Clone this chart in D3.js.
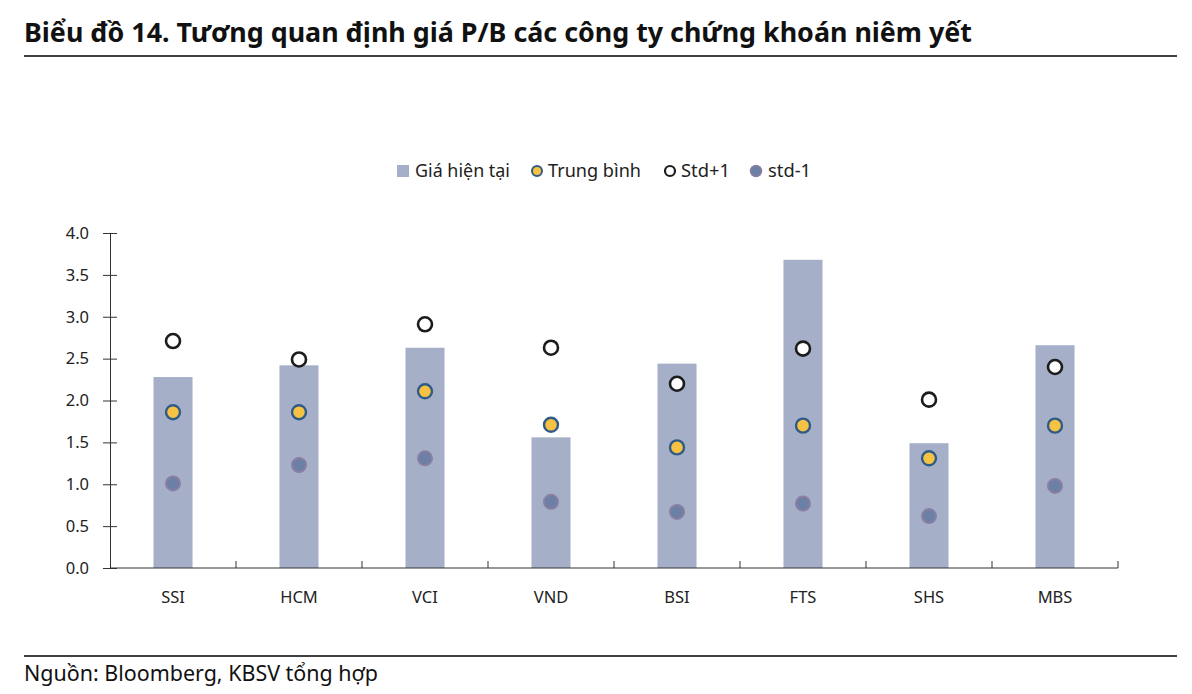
<!DOCTYPE html>
<html>
<head>
<meta charset="utf-8">
<script src="https://cdn.jsdelivr.net/npm/d3@7"></script>
<style>
  body { margin: 0; background: #fff; }
  text { font-family: "Source Sans Pro", "Noto Sans", sans-serif; }
</style>
</head>
<body>
<div id="chart"></div>
<script>
var categories = ["SSI", "HCM", "VCI", "VND", "BSI", "FTS", "SHS", "MBS"];
var currentPB = [2.28, 2.42, 2.63, 1.56, 2.44, 3.68, 1.49, 2.66];
var meanPB = [1.86, 1.86, 2.11, 1.71, 1.44, 1.70, 1.31, 1.70];
var stdPlus = [2.71, 2.49, 2.91, 2.63, 2.20, 2.62, 2.01, 2.40];
var stdMinus = [1.01, 1.23, 1.31, 0.79, 0.67, 0.77, 0.62, 0.98];
var yTicks = [0, 0.5, 1, 1.5, 2, 2.5, 3, 3.5, 4];

var width = 1192, height = 694;
var margin = { top: 233, left: 110, right: 74, bottom: 126 };

var svg = d3.select("#chart").append("svg")
  .attr("width", width)
  .attr("height", height);

// title + rules
svg.append("text")
  .attr("x", 24).attr("y", 42)
  .attr("font-size", 27).attr("font-weight", "bold")
  .attr("fill", "#111")
  .attr("textLength", 948).attr("lengthAdjust", "spacingAndGlyphs")
  .text("Biểu đồ 14. Tương quan định giá P/B các công ty chứng khoán niêm yết");
svg.append("line").attr("x1", 24).attr("x2", 1177).attr("y1", 56).attr("y2", 56)
  .attr("stroke", "#000").attr("stroke-width", 1.3);
svg.append("line").attr("x1", 24).attr("x2", 1177).attr("y1", 656).attr("y2", 656)
  .attr("stroke", "#000").attr("stroke-width", 1.3);
svg.append("text")
  .attr("x", 24).attr("y", 681)
  .attr("font-size", 22).attr("fill", "#111")
  .attr("textLength", 354).attr("lengthAdjust", "spacingAndGlyphs")
  .text("Nguồn: Bloomberg, KBSV tổng hợp");

var x = d3.scaleBand()
  .domain(categories)
  .range([margin.left, width - margin.right])
  .paddingInner(0.69).paddingOuter(0.345);

var xBand = d3.scaleBand()
  .domain(categories)
  .range([margin.left, width - margin.right]);

var y = d3.scaleLinear()
  .domain([0, 4])
  .range([height - margin.bottom, margin.top]);

var data = categories.map(function (c, i) {
  return { name: c, cur: currentPB[i], mean: meanPB[i], plus: stdPlus[i], minus: stdMinus[i] };
});

// bars
svg.append("g").selectAll("rect")
  .data(data)
  .enter()
  .append("rect")
  .attr("x", function (d) { return x(d.name); })
  .attr("width", x.bandwidth())
  .attr("y", function (d) { return y(d.cur); })
  .attr("height", function (d) { return y(0) - y(d.cur); })
  .attr("fill", "#a5b0c8");

// y axis
var yAxis = svg.append("g")
  .attr("transform", "translate(" + margin.left + ",0)")
  .call(d3.axisLeft(y).tickValues(yTicks).tickFormat(d3.format(".1f")).tickSizeInner(7).tickSizeOuter(0).tickPadding(14));
yAxis.selectAll(".tick line").attr("x2", 7).attr("x1", -7);
yAxis.select(".domain").attr("stroke", "#333");
yAxis.selectAll(".tick line").attr("stroke", "#333");
yAxis.selectAll("text").attr("font-size", 16.5).attr("fill", "#222")
  .style("font-family", "'Source Sans Pro', 'Noto Sans', sans-serif");

// x axis
var xAxis = svg.append("g")
  .attr("transform", "translate(0," + y(0) + ")");
xAxis.append("line")
  .attr("x1", margin.left).attr("x2", width - margin.right)
  .attr("stroke", "#333");
xAxis.selectAll(".sep")
  .data(categories.slice(1).concat(["__end"]))
  .enter()
  .append("line")
  .attr("x1", function (d) { return d === "__end" ? width - margin.right : xBand(d); })
  .attr("x2", function (d) { return d === "__end" ? width - margin.right : xBand(d); })
  .attr("y1", 0).attr("y2", -7)
  .attr("stroke", "#333");
xAxis.selectAll(".lbl")
  .data(categories)
  .enter()
  .append("text")
  .attr("x", function (d) { return xBand(d) + xBand.bandwidth() / 2; })
  .attr("y", 35)
  .attr("text-anchor", "middle")
  .attr("font-size", 16.5).attr("fill", "#222")
  .text(function (d) { return d; });

function cx(d) { return x(d.name) + x.bandwidth() / 2; }

// std-1
svg.append("g").selectAll("circle")
  .data(data).enter().append("circle")
  .attr("cx", cx).attr("cy", function (d) { return y(d.minus); })
  .attr("r", 7)
  .attr("fill", "#6b80a4").attr("stroke", "#8a7ea2").attr("stroke-width", 2);

// mean
svg.append("g").selectAll("circle")
  .data(data).enter().append("circle")
  .attr("cx", cx).attr("cy", function (d) { return y(d.mean); })
  .attr("r", 7)
  .attr("fill", "#f6c244").attr("stroke", "#2f5b86").attr("stroke-width", 2.4);

// std+1
svg.append("g").selectAll("circle")
  .data(data).enter().append("circle")
  .attr("cx", cx).attr("cy", function (d) { return y(d.plus); })
  .attr("r", 7)
  .attr("fill", "#fff").attr("stroke", "#1c1c1c").attr("stroke-width", 2.6);

// legend
var legend = svg.append("g").attr("transform", "translate(0,171)");
legend.append("rect").attr("x", 397).attr("y", -6).attr("width", 12).attr("height", 12).attr("fill", "#a5b0c8");
legend.append("text").attr("x", 415).attr("y", 6).attr("font-size", 17.5).attr("fill", "#222")
  .attr("textLength", 95).attr("lengthAdjust", "spacingAndGlyphs").text("Giá hiện tại");
legend.append("circle").attr("cx", 537).attr("cy", 0).attr("r", 5).attr("fill", "#f6c244").attr("stroke", "#2f5b86").attr("stroke-width", 2);
legend.append("text").attr("x", 548).attr("y", 6).attr("font-size", 17.5).attr("fill", "#222")
  .attr("textLength", 93).attr("lengthAdjust", "spacingAndGlyphs").text("Trung bình");
legend.append("circle").attr("cx", 670).attr("cy", 0).attr("r", 5).attr("fill", "#fff").attr("stroke", "#1c1c1c").attr("stroke-width", 2.2);
legend.append("text").attr("x", 681).attr("y", 6).attr("font-size", 17.5).attr("fill", "#222")
  .attr("textLength", 49).attr("lengthAdjust", "spacingAndGlyphs").text("Std+1");
legend.append("circle").attr("cx", 756).attr("cy", 0).attr("r", 5.5).attr("fill", "#6b80a4").attr("stroke", "#8a7ea2").attr("stroke-width", 1.5);
legend.append("text").attr("x", 768).attr("y", 6).attr("font-size", 17.5).attr("fill", "#222")
  .attr("textLength", 43).attr("lengthAdjust", "spacingAndGlyphs").text("std-1");
</script>
</body>
</html>
